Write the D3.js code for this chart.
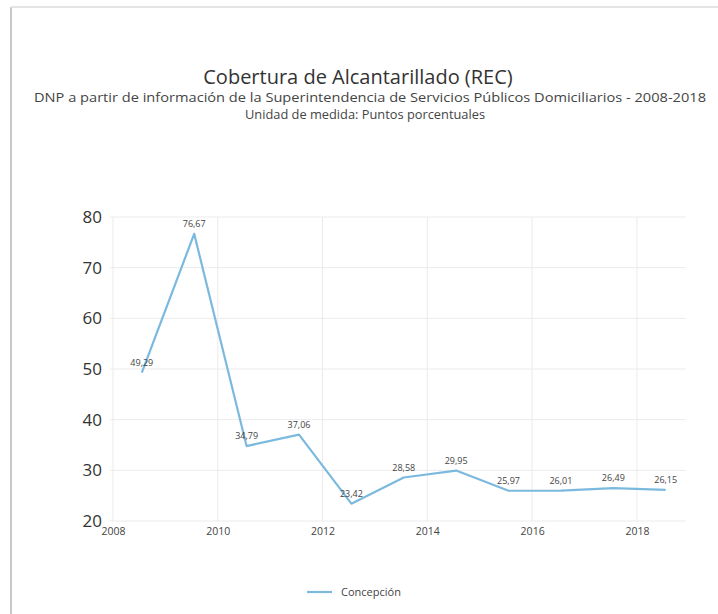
<!DOCTYPE html>
<html><head><meta charset="utf-8">
<script src="https://cdn.jsdelivr.net/npm/d3@7"></script>
<style>body{margin:0;background:#fff;}svg{display:block;font-family:"Open Sans","Noto Sans",sans-serif;}</style>
</head><body>
<svg id="c" width="718" height="614"></svg>
<script>
const years = [2008, 2009, 2010, 2011, 2012, 2013, 2014, 2015, 2016, 2017, 2018];
const values = [49.29, 76.67, 34.79, 37.06, 23.42, 28.58, 29.95, 25.97, 26.01, 26.49, 26.15];
const labels = ["49,29", "76,67", "34,79", "37,06", "23,42", "28,58", "29,95", "25,97", "26,01", "26,49", "26,15"];
const yTicks = [20, 30, 40, 50, 60, 70, 80];
const xTicks = [2008, 2010, 2012, 2014, 2016, 2018];
const seriesName = "Concepción";

const svg = d3.select("#c");
// frame
svg.append("line").attr("x1",11).attr("x2",11).attr("y1",7).attr("y2",614).attr("stroke","#c8c8c8").attr("stroke-width",2);
svg.append("line").attr("x1",11).attr("x2",718).attr("y1",7).attr("y2",7).attr("stroke","#e4e4e4").attr("stroke-width",2);

svg.append("text").attr("x",358).attr("y",84).attr("text-anchor","middle").attr("font-size",20).attr("fill","#333").text("Cobertura de Alcantarillado (REC)");
svg.append("text").attr("x",370).attr("y",102).attr("text-anchor","middle").attr("font-size",12).attr("fill","#444")
  .attr("textLength",672).attr("lengthAdjust","spacingAndGlyphs")
  .text("DNP a partir de información de la Superintendencia de Servicios Públicos Domiciliarios - 2008-2018");
svg.append("text").attr("x",365).attr("y",119).attr("text-anchor","middle").attr("font-size",12).attr("fill","#444")
  .attr("textLength",240).attr("lengthAdjust","spacingAndGlyphs")
  .text("Unidad de medida: Puntos porcentuales");

const x = d3.scaleLinear().domain([2008, 2018.88]).range([113, 683]);
const y = d3.scaleLinear().domain([20, 80]).range([521, 217]);

const g = svg.append("g");
// grid
g.selectAll(".hg").data(yTicks).join("line")
  .attr("x1",110).attr("x2",686).attr("y1",d=>y(d)).attr("y2",d=>y(d))
  .attr("stroke","#ebebeb").attr("stroke-width",1);
g.selectAll(".vg").data(xTicks).join("line")
  .attr("x1",d=>x(d)).attr("x2",d=>x(d)).attr("y1",y(80)).attr("y2",y(20))
  .attr("stroke","#ebebeb").attr("stroke-width",1);

// axes
const yAxis = d3.axisLeft(y).tickValues(yTicks).tickSize(0).tickPadding(0);
const ya = svg.append("g").attr("transform","translate(102,0)").call(yAxis);
ya.select(".domain").remove();
ya.selectAll("text").attr("font-size",17).attr("fill","#333").attr("font-family","'Open Sans','Noto Sans',sans-serif");

const xAxis = d3.axisBottom(x).tickValues(xTicks).tickFormat(d3.format("d")).tickSize(0).tickPadding(0);
const xa = svg.append("g").attr("transform","translate(0,528)").call(xAxis);
xa.select(".domain").remove();
xa.selectAll("text").attr("font-size",10.5).attr("fill","#444").attr("font-family","'Open Sans','Noto Sans',sans-serif");

const pts = years.map((yr,i)=>({x: yr + 0.55, v: values[i], l: labels[i]}));
const line = d3.line().x(d=>x(d.x)).y(d=>y(d.v));
svg.append("path").datum(pts).attr("d",line).attr("fill","none").attr("stroke","#7cb9df").attr("stroke-width",2.2).attr("stroke-linejoin","round");

svg.selectAll(".lbl").data(pts).join("text")
  .attr("x",d=>x(d.x)).attr("y",d=>y(d.v)-7)
  .attr("text-anchor","middle").attr("font-size",9).attr("fill","#444")
  .text(d=>d.l);

// legend
svg.append("line").attr("x1",307).attr("x2",332).attr("y1",592).attr("y2",592).attr("stroke","#7cb9df").attr("stroke-width",2.2);
svg.append("text").attr("x",341).attr("y",596).attr("font-size",11).attr("fill","#444").text(seriesName);
</script>
</body></html>
